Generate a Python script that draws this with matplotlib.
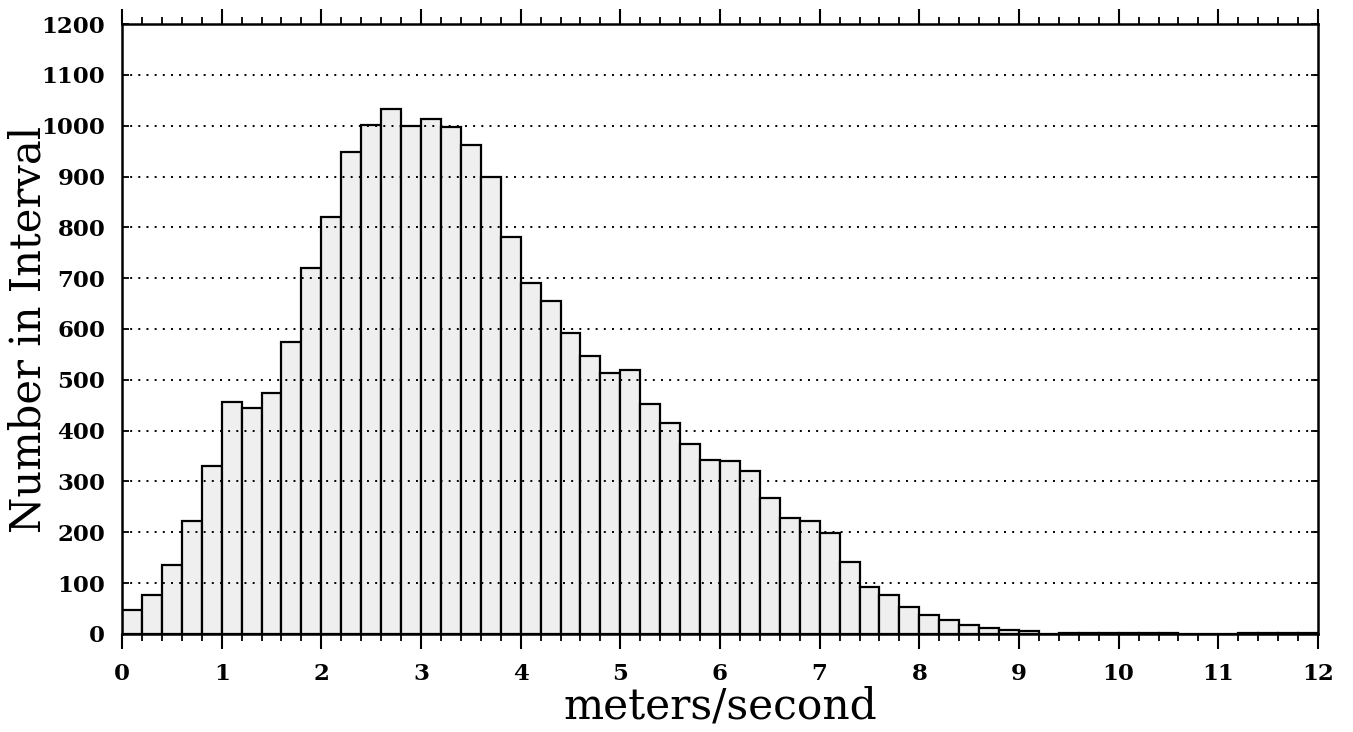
import numpy as np
import matplotlib
matplotlib.use("Agg")
import matplotlib.pyplot as plt
from matplotlib.ticker import MultipleLocator

# Histogram data: bin left edges (m/s) and counts
bin_width = 0.2
bin_edges = [round(i * 0.2, 1) for i in range(60)]
counts = [47, 76, 136, 222, 331, 457, 445, 474, 574, 720,
          821, 949, 1001, 1032, 1000, 1014, 997, 961, 899, 781,
          690, 655, 592, 547, 514, 520, 452, 415, 374, 343,
          341, 321, 268, 228, 222, 199, 142, 92, 77, 54,
          37, 27, 17, 12, 8, 6, 0, 2, 2, 2,
          2, 2, 1, 0, 0, 0, 1, 1, 1, 1]
x_ticks = list(range(0, 13))
y_ticks = list(range(0, 1201, 100))

fig = plt.figure(figsize=(13.53, 7.32), dpi=100)
ax = fig.add_axes([0.0902, 0.1339, 0.8839, 0.8333])

ax.bar(bin_edges, counts, width=bin_width, align="edge",
       facecolor="#efefef", edgecolor="black", linewidth=1.6, zorder=2)

for yv in y_ticks[1:-1]:
    ax.axhline(yv, color="black", linewidth=1.4, linestyle=(0, (1, 3.2)), zorder=3)

ax.set_xlim(0, 12)
ax.set_ylim(0, 1200)
ax.set_xticks(x_ticks)
ax.set_yticks(y_ticks)
ax.xaxis.set_minor_locator(MultipleLocator(0.2))

for s in ax.spines.values():
    s.set_linewidth(1.8)
    s.set_zorder(4)

ax.tick_params(axis="x", which="major", direction="out", length=11, width=1.5,
               top=True, bottom=True, pad=10)
ax.tick_params(axis="x", which="minor", direction="out", length=5, width=1.3,
               top=True, bottom=True)
ax.tick_params(axis="y", which="major", direction="in", length=5, width=1.3,
               left=True, right=True, pad=12)

for lab in ax.get_xticklabels() + ax.get_yticklabels():
    lab.set_fontfamily("DejaVu Serif")
    lab.set_fontweight("bold")
    lab.set_fontsize(16.5)

ax.set_xlabel("meters/second", fontfamily="DejaVu Serif", fontsize=30.5)
ax.xaxis.set_label_coords(0.5, -0.084)
ax.xaxis.label.set_va("top")
ax.set_ylabel("Number in Interval", fontfamily="DejaVu Serif", fontsize=30)
ax.yaxis.set_label_coords(-0.061, 0.5)

fig.savefig("out.png", dpi=100, facecolor="white")
